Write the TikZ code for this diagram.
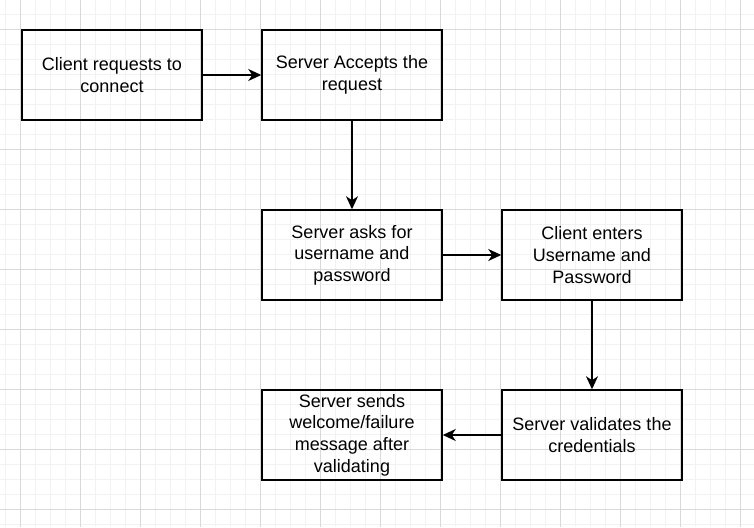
\documentclass[tikz,border=0pt]{standalone}
\usepackage{fontspec}
\setmainfont{Liberation Sans}
\usepackage{tikz}
\usetikzlibrary{arrows.meta}

\tikzset{
  stepbox/.style={draw, line width=1.5pt, minimum width=180pt, minimum height=90pt,
    align=center, inner sep=0pt, font=\fontsize{18}{21.6}\selectfont},
  flow/.style={line width=1.5pt, -{Stealth[length=13pt, width=12pt, inset=4pt]}}
}

\begin{document}
\begin{tikzpicture}[x=1pt, y=-1pt]

\useasboundingbox (0, 0) rectangle (754, 527);
\fill[white] (0, 0) rectangle (754, 527);

% background grid
\foreach \x in {5.5, 20.5, ..., 754}{
\draw[black!5, line width=0.75pt] (\x, 0) -- (\x, 527);
}
\foreach \y in {14.5, 29.5, ..., 527}{
\draw[black!5, line width=0.75pt] (0, \y) -- (754, \y);
}
\foreach \x in {20.5, 80.5, ..., 754}{
\draw[black!15, line width=0.75pt] (\x, 0) -- (\x, 527);
}
\foreach \y in {29.5, 89.5, ..., 527}{
\draw[black!15, line width=0.75pt] (0, \y) -- (754, \y);
}

% steps
\node[stepbox] (request) at (112, 75) {Client requests to\\connect};
\node[stepbox] (accept) at (352, 75) {Server Accepts the\\request};
\node[stepbox] (ask) at (352, 255) {Server asks for\\username and\\password};
\node[stepbox] (enter) at (592, 255) {Client enters\\Username and\\Password};
\node[stepbox] (validate) at (592, 435) {Server validates the\\credentials};
\node[stepbox] (reply) at (352, 435) {Server sends\\welcome/failure\\message after\\validating};

% connectors
\draw[flow] (request) -- (accept);
\draw[flow] (accept) -- (ask);
\draw[flow] (ask) -- (enter);
\draw[flow] (enter) -- (validate);
\draw[flow] (validate) -- (reply);

\end{tikzpicture}
\end{document}
